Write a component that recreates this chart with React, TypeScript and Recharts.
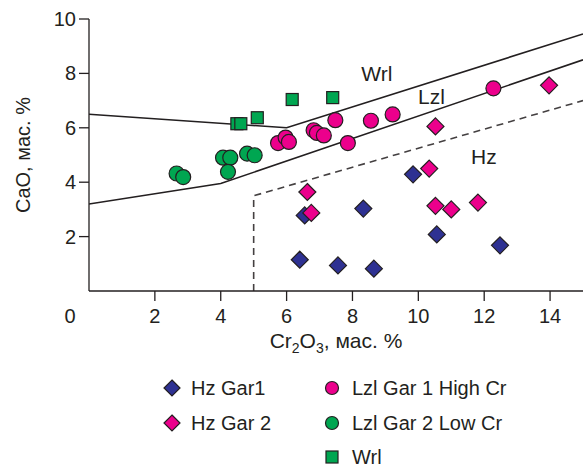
import { ScatterChart, Scatter, XAxis, YAxis, Label } from 'recharts';

// Cr2O3 (x) vs CaO (y), wt.%
const hzGar1 = [
  { x: 6.55, y: 2.78 },
  { x: 6.4, y: 1.15 },
  { x: 7.56, y: 0.94 },
  { x: 8.65, y: 0.82 },
  { x: 8.33, y: 3.03 },
  { x: 9.84, y: 4.29 },
  { x: 10.56, y: 2.08 },
  { x: 12.48, y: 1.68 },
];

const hzGar2 = [
  { x: 6.63, y: 3.64 },
  { x: 6.75, y: 2.87 },
  { x: 10.33, y: 4.5 },
  { x: 10.52, y: 3.13 },
  { x: 11.0, y: 3.0 },
  { x: 11.81, y: 3.25 },
  { x: 10.52, y: 6.05 },
  { x: 13.97, y: 7.56 },
];

const lzlHighCr = [
  { x: 5.74, y: 5.44 },
  { x: 5.97, y: 5.64 },
  { x: 6.07, y: 5.48 },
  { x: 6.82, y: 5.91 },
  { x: 6.92, y: 5.81 },
  { x: 7.13, y: 5.72 },
  { x: 7.48, y: 6.28 },
  { x: 7.86, y: 5.44 },
  { x: 8.56, y: 6.26 },
  { x: 9.22, y: 6.49 },
  { x: 12.28, y: 7.45 },
];

const lzlLowCr = [
  { x: 2.66, y: 4.32 },
  { x: 2.86, y: 4.19 },
  { x: 4.07, y: 4.9 },
  { x: 4.29, y: 4.9 },
  { x: 4.22, y: 4.38 },
  { x: 4.8, y: 5.05 },
  { x: 5.03, y: 4.99 },
];

const wrl = [
  { x: 4.49, y: 6.15 },
  { x: 4.61, y: 6.15 },
  { x: 5.11, y: 6.37 },
  { x: 6.17, y: 7.04 },
  { x: 7.4, y: 7.11 },
];

// field boundaries
const wrlBoundary = [
  { x: 0, y: 6.5 },
  { x: 6, y: 6.0 },
  { x: 15, y: 9.45 },
];
const lzlBoundary = [
  { x: 0, y: 3.2 },
  { x: 4, y: 3.95 },
  { x: 15, y: 8.5 },
];
const hzBoundary = [
  { x: 5, y: 0 },
  { x: 5, y: 3.5 },
  { x: 15, y: 7.0 },
];

const fieldLabels = [
  { x: 8.74, y: 7.97, name: 'Wrl' },
  { x: 10.4, y: 7.13, name: 'Lzl' },
  { x: 11.99, y: 4.92, name: 'Hz' },
];

const xTicks = [0, 2, 4, 6, 8, 10, 12, 14];
const yTicks = [2, 4, 6, 8, 10];

const INK = '#231f20';
const BLUE = '#2e3192';
const MAGENTA = '#ec008c';
const GREEN = '#00a651';
const FONT = '"Liberation Sans", Arial, Helvetica, sans-serif';

const diamond = (cx: number, cy: number, h: number, fill: string) => (
  <polygon
    points={`${cx},${cy - h} ${cx + h},${cy} ${cx},${cy + h} ${cx - h},${cy}`}
    fill={fill}
    stroke={INK}
    strokeWidth={1.2}
  />
);

const square = (cx: number, cy: number, s: number, fill: string) => (
  <rect x={cx - s / 2} y={cy - s / 2} width={s} height={s} fill={fill} stroke={INK} strokeWidth={1.2} />
);

const circle = (cx: number, cy: number, r: number, fill: string) => (
  <circle cx={cx} cy={cy} r={r} fill={fill} stroke={INK} strokeWidth={1.2} />
);

const XTick = (props: any) => {
  const { x, y, payload } = props;
  const v = payload.value;
  return (
    <g>
      {v !== 0 && <line x1={x} y1={y} x2={x} y2={y + 10} stroke={INK} strokeWidth={1.3} />}
      <text x={v === 0 ? x - 19 : x} y={y + 32} textAnchor="middle" fontSize={20} fill={INK} fontFamily={FONT}>
        {v}
      </text>
    </g>
  );
};

const YTick = (props: any) => {
  const { x, y, payload } = props;
  return (
    <g>
      <line x1={x - 10} y1={y} x2={x} y2={y} stroke={INK} strokeWidth={1.3} />
      <text x={x - 13} y={y + 7} textAnchor="end" fontSize={20} fill={INK} fontFamily={FONT}>
        {payload.value}
      </text>
    </g>
  );
};

const legendItems = [
  { col: 0, row: 0, label: 'Hz Gar1', kind: 'diamond', color: BLUE },
  { col: 0, row: 1, label: 'Hz Gar 2', kind: 'diamond', color: MAGENTA },
  { col: 1, row: 0, label: 'Lzl Gar 1 High Cr', kind: 'circle', color: MAGENTA },
  { col: 1, row: 1, label: 'Lzl Gar 2 Low Cr', kind: 'circle', color: GREEN },
  { col: 1, row: 2, label: 'Wrl', kind: 'square', color: GREEN },
];

function ChartLegend() {
  const colX = [172, 332];
  const textX = [191, 352];
  const rowY = [388, 423, 457];
  return (
    <svg width={583} height={468} style={{ position: 'absolute', left: 0, top: 0, pointerEvents: 'none' }}>
      {legendItems.map((it) => {
        const cx = colX[it.col];
        const cy = rowY[it.row];
        return (
          <g key={it.label}>
            {it.kind === 'diamond' && diamond(cx, cy, 8, it.color)}
            {it.kind === 'circle' && circle(cx, cy, 6.5, it.color)}
            {it.kind === 'square' && square(cx, cy, 12, it.color)}
            <text x={textX[it.col]} y={cy + 7} fontSize={20} fill={INK} fontFamily={FONT}>
              {it.label}
            </text>
          </g>
        );
      })}
    </svg>
  );
}

export default function App() {
  return (
    <div style={{ position: 'absolute', left: 0, top: 0, width: 583, height: 468, background: '#fff' }}>
      <ScatterChart width={583} height={468} margin={{ top: 19, right: 0, left: 0, bottom: 147 }}>
        <XAxis
          type="number"
          dataKey="x"
          domain={[0, 15]}
          ticks={xTicks}
          allowDataOverflow
          height={30}
          tickSize={0}
          tickMargin={0}
          tickLine={false}
          axisLine={{ stroke: INK, strokeWidth: 1.3 }}
          tick={<XTick />}
          interval={0}
        >
          <Label
            content={(p: any) => {
              const vb = p.viewBox;
              return (
                <text x={vb.x + vb.width / 2} y={348} textAnchor="middle" fontSize={21} fill={INK} fontFamily={FONT}>
                  Cr<tspan fontSize={14} dy={5}>2</tspan>
                  <tspan dy={-5}>O</tspan>
                  <tspan fontSize={14} dy={5}>3</tspan>
                  <tspan dy={-5}>, мас. %</tspan>
                </text>
              );
            }}
          />
        </XAxis>
        <YAxis
          type="number"
          dataKey="y"
          domain={[0, 10]}
          ticks={yTicks}
          allowDataOverflow
          width={89}
          tickSize={0}
          tickMargin={0}
          tickLine={false}
          axisLine={{ stroke: INK, strokeWidth: 1.3 }}
          tick={<YTick />}
          interval={0}
        >
          <Label
            content={(p: any) => {
              const vb = p.viewBox;
              const cy = vb.y + vb.height / 2;
              return (
                <text
                  x={30}
                  y={cy}
                  transform={`rotate(-90, 30, ${cy})`}
                  textAnchor="middle"
                  fontSize={20}
                  fill={INK}
                  fontFamily={FONT}
                >
                  CaO, мас. %
                </text>
              );
            }}
          />
        </YAxis>

        <Scatter data={wrlBoundary} line={{ stroke: INK, strokeWidth: 1.6 }} lineType="joint" shape={() => <g />} isAnimationActive={false} />
        <Scatter data={lzlBoundary} line={{ stroke: INK, strokeWidth: 1.6 }} lineType="joint" shape={() => <g />} isAnimationActive={false} />
        <Scatter
          data={hzBoundary}
          line={{ stroke: INK, strokeWidth: 1.6, strokeDasharray: '7 5', strokeOpacity: 0.85 }}
          lineType="joint"
          shape={() => <g />}
          isAnimationActive={false}
        />
        <Scatter
          data={fieldLabels}
          shape={(p: any) => (
            <text x={p.cx} y={p.cy + 7} textAnchor="middle" fontSize={21} fill={INK} fontFamily={FONT}>
              {p.payload.name}
            </text>
          )}
          isAnimationActive={false}
        />

        <Scatter name="Hz Gar1" data={hzGar1} shape={(p: any) => diamond(p.cx, p.cy, 8.5, BLUE)} isAnimationActive={false} />
        <Scatter name="Hz Gar 2" data={hzGar2} shape={(p: any) => diamond(p.cx, p.cy, 8.5, MAGENTA)} isAnimationActive={false} />
        <Scatter name="Lzl Gar 2 Low Cr" data={lzlLowCr} shape={(p: any) => circle(p.cx, p.cy, 7.5, GREEN)} isAnimationActive={false} />
        <Scatter name="Lzl Gar 1 High Cr" data={lzlHighCr} shape={(p: any) => circle(p.cx, p.cy, 7.5, MAGENTA)} isAnimationActive={false} />
        <Scatter name="Wrl" data={wrl} shape={(p: any) => square(p.cx, p.cy, 12, GREEN)} isAnimationActive={false} />
      </ScatterChart>
      <ChartLegend />
    </div>
  );
}
